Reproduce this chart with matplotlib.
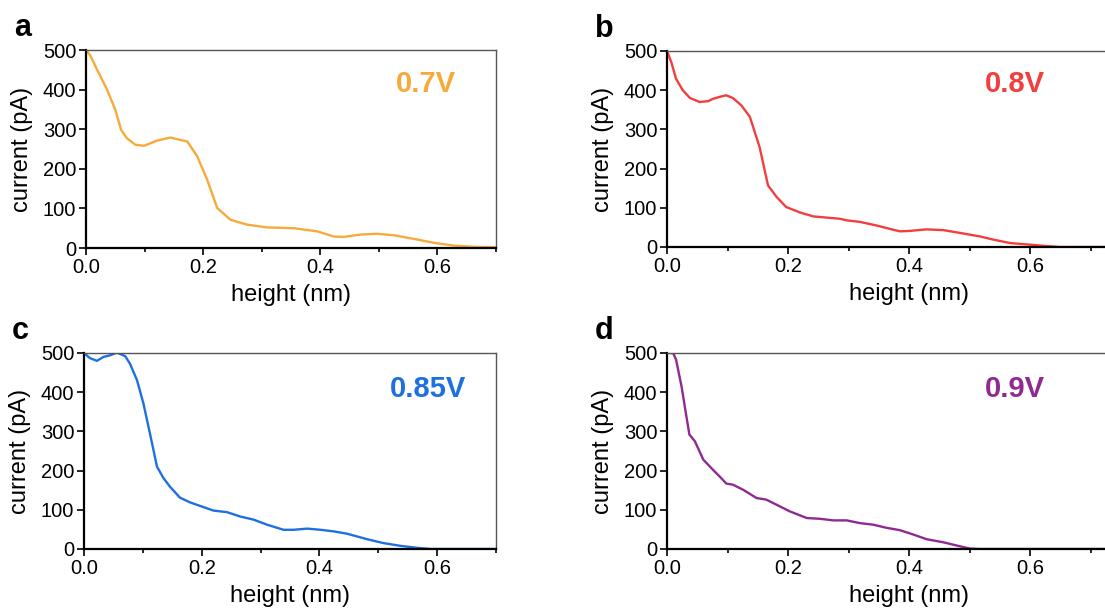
import matplotlib.pyplot as plt
from matplotlib.ticker import MultipleLocator

plt.rcParams['font.family'] = ['Liberation Sans', 'DejaVu Sans']

# panel a: 0.7 V
h_a = [0, 0.007, 0.019, 0.036, 0.05, 0.06, 0.07, 0.084, 0.099, 0.121, 0.144, 0.161, 0.173,
       0.19, 0.207, 0.224, 0.247, 0.275, 0.309, 0.355, 0.395, 0.423, 0.44, 0.469, 0.497,
       0.526, 0.56, 0.594, 0.628, 0.663, 0.70]
i_a = [500, 487, 450, 400, 349, 298, 277, 261, 258, 271, 279, 273, 269,
       231, 172, 101, 71, 59, 52, 50, 42, 29, 28, 34, 36,
       32, 23, 13, 6, 3, 2]

# panel b: 0.8 V
h_b = [0, 0.007, 0.015, 0.026, 0.038, 0.054, 0.068, 0.076, 0.087, 0.098, 0.109, 0.123, 0.137,
       0.153, 0.167, 0.181, 0.197, 0.22, 0.242, 0.264, 0.286, 0.297, 0.319, 0.346, 0.374,
       0.385, 0.401, 0.429, 0.457, 0.484, 0.517, 0.539, 0.567, 0.6, 0.622, 0.65, 0.78]
i_b = [500, 472, 429, 400, 380, 370, 372, 378, 383, 387, 380, 361, 332,
       255, 157, 128, 102, 88, 78, 75, 72, 68, 64, 55, 44,
       40, 41, 45, 43, 36, 27, 19, 10, 6, 3, 0, 0]

# panel c: 0.85 V
h_c = [0, 0.01, 0.022, 0.033, 0.044, 0.056, 0.07, 0.078, 0.09, 0.101, 0.112, 0.124, 0.135,
       0.146, 0.163, 0.18, 0.197, 0.22, 0.243, 0.265, 0.288, 0.311, 0.339, 0.356, 0.379,
       0.402, 0.424, 0.447, 0.481, 0.509, 0.538, 0.566, 0.589, 0.70]
i_c = [500, 487, 480, 490, 494, 501, 492, 473, 431, 371, 295, 210, 181,
       159, 131, 119, 110, 98, 94, 83, 75, 62, 49, 49, 52,
       49, 45, 39, 25, 15, 8, 3, 0, 0]

# panel d: 0.9 V
h_d = [0, 0.01, 0.015, 0.024, 0.032, 0.037, 0.046, 0.06, 0.076, 0.087, 0.098, 0.109, 0.126,
       0.148, 0.164, 0.181, 0.203, 0.231, 0.253, 0.275, 0.297, 0.319, 0.341, 0.363, 0.385,
       0.407, 0.429, 0.457, 0.484, 0.501, 0.517, 0.78]
i_d = [500, 500, 483, 415, 339, 292, 275, 228, 202, 185, 167, 164, 151,
       130, 126, 113, 96, 79, 77, 73, 73, 66, 62, 54, 48,
       37, 25, 17, 7, 1, 0, 0]

panels = [
    ('a', '0.7V', '#F7AA3C', h_a, i_a, [86, 50, 410, 198], 0.7, (426, 84)),
    ('b', '0.8V', '#F23E3E', h_b, i_b, [667, 51, 484, 196], 0.8, (1015, 84)),
    ('c', '0.85V', '#1E6FE0', h_c, i_c, [84, 353, 412, 196], 0.7, (428, 389)),
    ('d', '0.9V', '#8E2A91', h_d, i_d, [667, 353, 484, 196], 0.8, (1015, 389)),
]

W, H = 1105, 613
fig = plt.figure(figsize=(W / 100, H / 100), dpi=100)

for letter, volt, color, h, cur, (l, t, w, hh), xmax, (tx, ty) in panels:
    ax = fig.add_axes([l / W, 1 - (t + hh) / H, w / W, hh / H])
    ax.plot(h, cur, color=color, lw=1.7)
    ax.set_xlim(0, xmax)
    ax.set_ylim(0, 500)
    ax.xaxis.set_minor_locator(MultipleLocator(0.1))
    ax.yaxis.set_major_locator(MultipleLocator(100))
    ax.set_xticks([0, 0.2, 0.4, 0.6])
    ax.set_xticklabels(['0.0', '0.2', '0.4', '0.6'])
    ax.tick_params(axis='both', which='major', direction='out', length=5, width=1.2,
                   labelsize=14.5, pad=2)
    ax.tick_params(axis='x', which='minor', direction='out', length=3, width=1.2)
    for s in ['left', 'bottom']:
        ax.spines[s].set_linewidth(1.6)
        ax.spines[s].set_color('black')
    for s in ['top', 'right']:
        ax.spines[s].set_linewidth(1.0)
        ax.spines[s].set_color('#555555')
    ax.set_xlabel('height (nm)', fontsize=17, labelpad=5)
    ax.set_ylabel('current (pA)', fontsize=17, labelpad=7)
    fig.text(tx / W, 1 - ty / H, volt, color=color, fontsize=21, fontweight='bold',
             ha='center', va='center')
    fig.text((l - 72) / W, 1 - (t - 22) / H, letter, fontsize=22, fontweight='bold',
             ha='left', va='center')

fig.savefig('out.png', dpi=100)
